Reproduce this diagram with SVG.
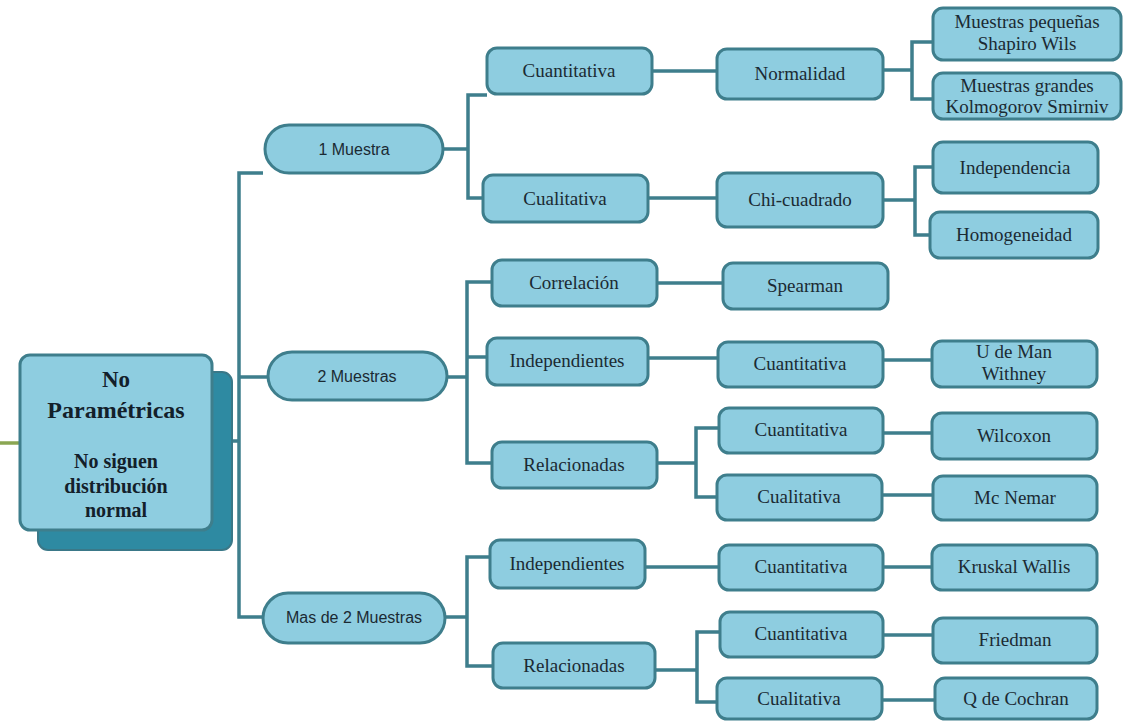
<svg xmlns="http://www.w3.org/2000/svg" width="1126" height="721" viewBox="0 0 1126 721">
<style>
.n{fill:#8ecde0;stroke:#3e7e8c;stroke-width:3}
.t{font-family:"Liberation Serif",serif;font-size:19px;fill:#1b2a33;text-anchor:middle}
.s{font-family:"Liberation Sans",Arial,sans-serif;font-size:16px;fill:#1b2a33;text-anchor:middle}
.b{font-family:"Liberation Serif",serif;font-weight:bold;fill:#13202a;text-anchor:middle}
.c{fill:none;stroke:#3e7e8c;stroke-width:3.5}
</style>
<rect width="1126" height="721" fill="#ffffff"/>
<g id="connectors">
<path class="c" d="M0,443 H20" style="stroke:#8aa652"/>
<path class="c" d="M212,441 H239 M263,173 H239 V617 H265 M239,377 H268"/>
<path class="c" d="M441,149 H468 M487,95 H468 V198 H484"/>
<path class="c" d="M652,71 H718"/>
<path class="c" d="M883,70 H912 M933,42 H912 V99 H933"/>
<path class="c" d="M648,198 H718"/>
<path class="c" d="M883,200 H915 M933,167 H915 V235 H930"/>
<path class="c" d="M447,377 H467 M492,282 H467 V463 H492 M467,357 H487"/>
<path class="c" d="M657,283 H723"/>
<path class="c" d="M648,358 H718"/>
<path class="c" d="M883,360 H932"/>
<path class="c" d="M657,463 H696 M719,428 H696 V497 H717"/>
<path class="c" d="M883,433 H932"/>
<path class="c" d="M882,495 H933"/>
<path class="c" d="M445,617 H467 M490,557 H467 V666 H493"/>
<path class="c" d="M645,567 H719"/>
<path class="c" d="M883,567 H932"/>
<path class="c" d="M655,670 H697 M720,632 H697 V702 H717"/>
<path class="c" d="M883,635 H933"/>
<path class="c" d="M882,700 H935"/>
</g>
<g id="root">
<rect x="38" y="372" width="194" height="178" rx="10" fill="#2e8aa2" stroke="#3a7888" stroke-width="2"/>
<rect class="n" x="20" y="355" width="192" height="175" rx="10"/>
<text class="b" x="116" y="387" font-size="23">No</text>
<text class="b" x="116" y="418" font-size="24">Paramétricas</text>
<text class="b" x="116" y="468" font-size="20">No siguen</text>
<text class="b" x="116" y="493" font-size="20">distribución</text>
<text class="b" x="116" y="517" font-size="20">normal</text>
</g>
<g id="m1"><rect class="n" x="265" y="125" width="178" height="48" rx="24"/><text class="s" x="354" y="155" font-size="15">1 Muestra</text></g>
<g id="m2"><rect class="n" x="268" y="352" width="179" height="48" rx="24"/><text class="s" x="357" y="382">2 Muestras</text></g>
<g id="m3"><rect class="n" x="263" y="593" width="182" height="50" rx="25"/><text class="s" x="354" y="623">Mas de 2 Muestras</text></g>
<g id="cuanti1"><rect class="n" x="487" y="48" width="165" height="46" rx="10"/><text class="t" x="569" y="77">Cuantitativa</text></g>
<g id="cuali1"><rect class="n" x="483" y="175" width="165" height="47" rx="10"/><text class="t" x="565" y="205">Cualitativa</text></g>
<g id="normalidad"><rect class="n" x="717" y="49" width="166" height="50" rx="10"/><text class="t" x="800" y="80">Normalidad</text></g>
<g id="chi"><rect class="n" x="717" y="173" width="166" height="54" rx="10"/><text class="t" x="800" y="206">Chi-cuadrado</text></g>
<g id="pequenas"><rect class="n" x="933" y="8" width="188" height="52" rx="10"/><text class="t" x="1027" y="28">Muestras pequeñas</text><text class="t" x="1027" y="50">Shapiro Wils</text></g>
<g id="grandes"><rect class="n" x="933" y="73" width="188" height="46" rx="10"/><text class="t" x="1027" y="92">Muestras grandes</text><text class="t" x="1027" y="113">Kolmogorov Smirniv</text></g>
<g id="independencia"><rect class="n" x="933" y="142" width="165" height="51" rx="10"/><text class="t" x="1015" y="174">Independencia</text></g>
<g id="homogeneidad"><rect class="n" x="930" y="212" width="168" height="46" rx="10"/><text class="t" x="1014" y="241">Homogeneidad</text></g>
<g id="correlacion"><rect class="n" x="492" y="260" width="165" height="46" rx="10"/><text class="t" x="574" y="289">Correlación</text></g>
<g id="indep2"><rect class="n" x="487" y="338" width="161" height="47" rx="10"/><text class="t" x="567" y="367">Independientes</text></g>
<g id="relac2"><rect class="n" x="492" y="442" width="165" height="46" rx="10"/><text class="t" x="574" y="471">Relacionadas</text></g>
<g id="spearman"><rect class="n" x="723" y="263" width="165" height="46" rx="10"/><text class="t" x="805" y="292">Spearman</text></g>
<g id="cuanti2"><rect class="n" x="718" y="342" width="165" height="45" rx="10"/><text class="t" x="800" y="370">Cuantitativa</text></g>
<g id="umann"><rect class="n" x="932" y="341" width="165" height="46" rx="10"/><text class="t" x="1014" y="358">U de Man</text><text class="t" x="1014" y="380">Withney</text></g>
<g id="cuanti3"><rect class="n" x="719" y="408" width="164" height="45" rx="10"/><text class="t" x="801" y="436">Cuantitativa</text></g>
<g id="wilcoxon"><rect class="n" x="932" y="413" width="165" height="46" rx="10"/><text class="t" x="1014" y="442">Wilcoxon</text></g>
<g id="cuali3"><rect class="n" x="717" y="475" width="165" height="45" rx="10"/><text class="t" x="799" y="503">Cualitativa</text></g>
<g id="mcnemar"><rect class="n" x="933" y="476" width="164" height="44" rx="10"/><text class="t" x="1015" y="504">Mc Nemar</text></g>
<g id="indep3"><rect class="n" x="490" y="540" width="155" height="48" rx="10"/><text class="t" x="567" y="570">Independientes</text></g>
<g id="relac3"><rect class="n" x="493" y="643" width="162" height="45" rx="10"/><text class="t" x="574" y="672">Relacionadas</text></g>
<g id="cuanti4"><rect class="n" x="719" y="545" width="164" height="45" rx="10"/><text class="t" x="801" y="573">Cuantitativa</text></g>
<g id="kruskal"><rect class="n" x="932" y="545" width="165" height="45" rx="10"/><text class="t" x="1014" y="573">Kruskal Wallis</text></g>
<g id="cuanti5"><rect class="n" x="720" y="612" width="163" height="45" rx="10"/><text class="t" x="801" y="640">Cuantitativa</text></g>
<g id="friedman"><rect class="n" x="933" y="618" width="164" height="45" rx="10"/><text class="t" x="1015" y="646">Friedman</text></g>
<g id="cuali5"><rect class="n" x="717" y="678" width="165" height="41" rx="10"/><text class="t" x="799" y="705">Cualitativa</text></g>
<g id="cochran"><rect class="n" x="935" y="678" width="162" height="41" rx="10"/><text class="t" x="1016" y="705">Q de Cochran</text></g>
</svg>
